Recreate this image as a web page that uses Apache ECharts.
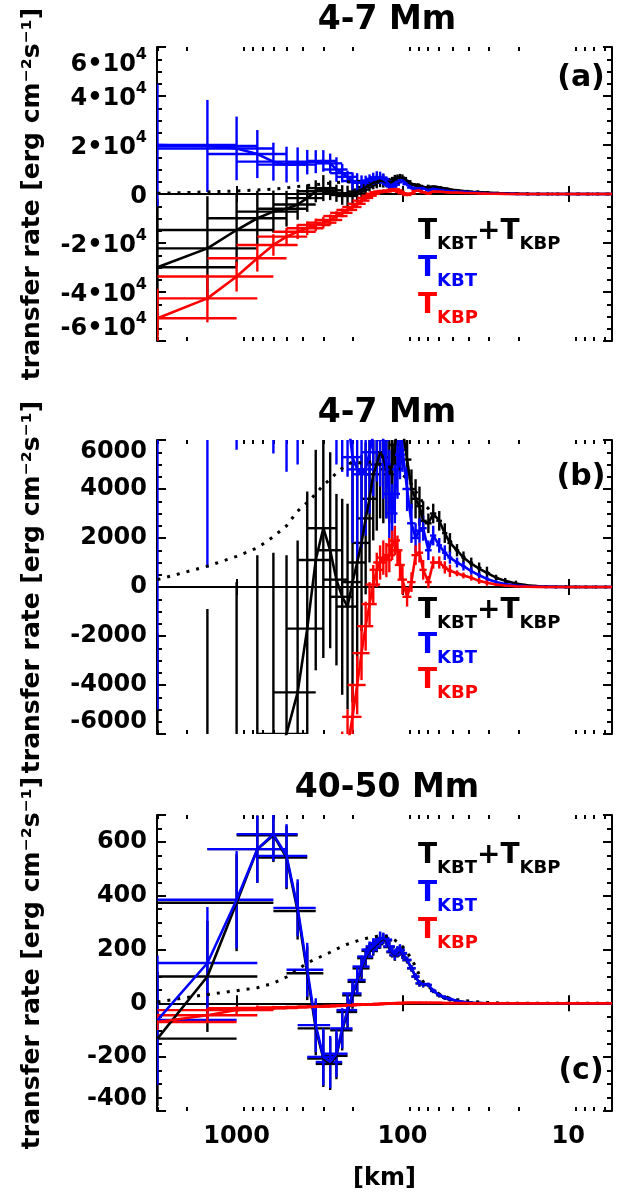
<!DOCTYPE html>
<html>
<head>
<meta charset="utf-8">
<script src="https://cdn.jsdelivr.net/npm/echarts@6/dist/echarts.min.js"></script>
<style>
  html, body { margin: 0; padding: 0; background: #fff; }
  #chart { width: 617px; height: 1192px; }
</style>
</head>
<body>
<div id="chart"></div>
<script>
// horizontal scale in km = domainKm / wavenumber index
const domainKm = 3000;
const waveN = [
  1, 2, 3, 4, 5, 6, 7, 8, 9, 10,
  11, 12, 13, 14, 15, 16, 17, 18, 19, 20,
  21, 22, 23, 24, 25, 26, 27, 28, 29, 30,
  32, 34, 36, 38, 40, 43, 46, 50, 54, 58,
  64, 70, 78, 87, 97, 110, 125, 145, 170, 200,
  240, 290, 350, 420, 500, 550
];

// ---- 4-7 Mm (panels a and b) ----
const sum47 = [
  -29900, -22200, -14700, -9900, -7200, -6000, -4300, -1700, 1100, 2400,
  1500, 300, -400, -800, 200, 1000, 1800, 2800, 3600, 4600,
  5000, 5500, 5300, 4800, 4600, 5000, 5800, 6500, 6700, 6500,
  5200, 4000, 3600, 3300, 2700, 2600, 3000, 2700, 2200, 1800,
  1500, 1200, 950, 750, 580, 380, 250, 140, 70, 30,
  10, 5, 0, 0, 0, 0
];
const sumErr47 = [
  28000, 21300, 14900, 11200, 8600, 7300, 6200, 5600, 4500, 5300,
  4000, 3500, 4000, 4200, 4900, 4200, 3600, 3100, 2600, 2700,
  2700, 2700, 2700, 2000, 2000, 2000, 2000, 1500, 1500, 1500,
  800, 800, 800, 800, 800, 400, 400, 400, 400, 400,
  250, 250, 250, 250, 250, 120, 120, 120, 40, 40,
  10, 10, 5, 5, 5, 5
];
const kbt47 = [
  20000, 19600, 18600, 16300, 13200, 12000, 12000, 13000, 13200, 13500,
  12500, 10000, 8500, 7000, 5300, 4800, 4600, 4800, 5500, 6200,
  6800, 6600, 6000, 5000, 3800, 3000, 3800, 4800, 5400, 5600,
  4000, 2600, 2000, 2300, 2400, 1500, 2100, 1700, 1400, 1200,
  1000, 850, 650, 480, 330, 200, 120, 60, 25, 10,
  5, 0, 0, 0, 0, 0
];
const kbtErr47 = [
  25000, 18800, 13000, 9800, 7750, 7300, 7000, 5000, 4700, 4400,
  4000, 5000, 3800, 2500, 3500, 3700, 3000, 2700, 2500, 2500,
  2500, 2500, 2400, 2200, 1800, 1200, 1200, 1200, 1000, 900,
  900, 800, 600, 500, 500, 400, 400, 300, 300, 250,
  200, 180, 150, 120, 100, 70, 50, 30, 15, 8,
  4, 2, 1, 1, 1, 1
];
const kbp47 = [
  -50700, -42600, -33700, -26250, -20800, -17400, -15400, -14000, -12650, -11700,
  -10600, -9000, -7700, -6500, -5300, -4000, -2700, -1600, -700, 100,
  700, 1000, 1200, 1100, 1300, 1700, 1900, 1500, 900, 300,
  -400, 200, 1300, 1400, 700, 200, 1000, 1000, 800, 660,
  560, 470, 380, 250, 170, 100, 60, 30, 15, 5,
  0, 0, 0, 0, 0, 0
];
const kbpErr47 = [
  12000, 9800, 6100, 5400, 4400, 3500, 3000, 2800, 2600, 2400,
  2200, 2000, 1800, 1500, 1300, 1200, 1100, 1000, 900, 800,
  700, 700, 700, 700, 700, 600, 600, 600, 600, 600,
  400, 400, 400, 400, 400, 250, 250, 250, 250, 250,
  120, 120, 120, 120, 120, 50, 50, 50, 20, 20,
  5, 5, 2, 2, 2, 2
];
const ref47 = [
  300, 850, 1250, 1600, 2050, 2500, 3100, 3450, 3800, 4150,
  4400, 4650, 4850, 5000, 5100, 5100, 5050, 5050, 5100, 5100,
  5050, 5000, 4950, 4900, 4900, 4900, 4850, 4850, 4800, 4600,
  4400, 4200, 3900, 3700, 3400, 3200, 2950, 2600, 2200, 1900,
  1500, 1250, 1000, 800, 600, 380, 230, 120, 50, 20,
  5, 0, 0, 0, 0, 0
];

// ---- 40-50 Mm (panel c) ----
const sum4050 = [
  -131, 100, 374, 573, 625, 542, 343, 112, -93, -205,
  -225, -195, -100, -32, 30, 80, 130, 168, 195, 207,
  220, 233, 240, 234, 209, 190, 178, 190, 197, 185,
  160, 130, 99, 74, 71, 68, 46, 30, 21, 15,
  9, 5, 2, 1, 0, 0, 0, 0, 0, 0,
  0, 0, 0, 0, 0, 0
];
const sumErr4050 = [
  250, 206, 180, 125, 100, 118, 106, 100, 100, 106,
  97, 87, 75, 60, 50, 45, 40, 30, 30, 30,
  30, 30, 20, 20, 20, 20, 20, 20, 20, 20,
  12, 12, 12, 12, 12, 8, 8, 8, 8, 8,
  4, 4, 4, 4, 4, 1, 1, 1, 1, 1,
  1, 1, 1, 1, 1, 1
];
const kbt4050 = [
  -62, 150, 385, 573, 629, 548, 355, 125, -81, -199,
  -218, -187, -93, -25, 37, 87, 137, 174, 200, 212,
  224, 237, 243, 237, 212, 193, 181, 193, 200, 187,
  162, 131, 100, 75, 72, 69, 47, 31, 22, 16,
  10, 5, 2, 1, 0, 0, 0, 0, 0, 0,
  0, 0, 0, 0, 0, 0
];
const kbtErr4050 = [
  240, 208, 181, 125, 100, 118, 106, 100, 100, 106,
  97, 87, 75, 60, 50, 45, 40, 30, 30, 30,
  30, 30, 20, 20, 20, 20, 20, 20, 20, 20,
  12, 12, 12, 12, 12, 8, 8, 8, 8, 8,
  4, 4, 4, 4, 4, 1, 1, 1, 1, 1,
  1, 1, 1, 1, 1, 1
];
const kbp4050 = [
  -69, -44, -25, -18, -17, -15, -14, -13, -12, -11,
  -10, -9, -8, -7, -6, -5, -5, -4, -4, -3,
  -3, -2, -2, -1, -1, 0, 0, 1, 1, 1,
  2, 2, 2, 2, 2, 2, 2, 2, 1, 1,
  1, 1, 0, 0, 0, 0, 0, 0, 0, 0,
  0, 0, 0, 0, 0, 0
];
const kbpErr4050 = [
  30, 25, 15, 10, 8, 6, 5, 5, 4, 4,
  4, 3, 3, 3, 3, 2, 2, 2, 2, 2,
  2, 2, 2, 2, 2, 2, 2, 2, 2, 2,
  1, 1, 1, 1, 1, 1, 1, 1, 1, 1,
  1, 1, 1, 1, 1, 1, 1, 1, 1, 1,
  1, 1, 1, 1, 1, 1
];
const ref4050 = [
  5, 33, 47, 58, 75, 98, 125, 150, 165, 178,
  190, 202, 212, 220, 226, 232, 237, 241, 244, 247,
  249, 250, 250, 248, 245, 240, 235, 228, 220, 212,
  190, 165, 137, 105, 80, 62, 48, 35, 26, 19,
  14, 11, 8, 5, 3, 2, 0, 0, 0, 0,
  0, 0, 0, 0, 0, 0
];

// axis ticks and labels
const xMajor = [10, 100, 1000];
const xMajorText = ['10', '100', '1000'];
const xMinor = [6, 7, 8, 9, 20, 30, 40, 50, 60, 70, 80, 90,
  200, 300, 400, 500, 600, 700, 800, 900, 2000, 3000];
const yTicksA = [-60000, -40000, -20000, 0, 20000, 40000, 60000];
const yTextA = ['{b|-6•10}{sup|4}', '{b|-4•10}{sup|4}', '{b|-2•10}{sup|4}', '{b|0}',
  '{b|2•10}{sup|4}', '{b|4•10}{sup|4}', '{b|6•10}{sup|4}'];
const yTicksB = [-6000, -4000, -2000, 0, 2000, 4000, 6000];
const yTextB = ['-6000', '-4000', '-2000', '0', '2000', '4000', '6000'];
const yTicksC = [-400, -200, 0, 200, 400, 600];
const yTextC = ['-400', '-200', '0', '200', '400', '600'];

const fontFamily = 'DejaVu Sans';
const BLACK = '#000000', BLUE = '#0000ff', RED = '#ff0000';

const panels = [
  { top: 47, height: 294, min: -60000, max: 60000, interval: 20000, ticks: yTicksA, text: yTextA,
    sum: sum47, sumErr: sumErr47, kbt: kbt47, kbtErr: kbtErr47, kbp: kbp47, kbpErr: kbpErr47, ref: ref47,
    title: '4-7 Mm', titleY: 20, tag: '(a)', tagY: 78, legendY: [223, 260, 297] },
  { top: 440, height: 294, min: -6000, max: 6000, interval: 2000, ticks: yTicksB, text: yTextB,
    sum: sum47, sumErr: sumErr47, kbt: kbt47, kbtErr: kbtErr47, kbp: kbp47, kbpErr: kbpErr47, ref: ref47,
    title: '4-7 Mm', titleY: 413, tag: '(b)', tagY: 477, legendY: [602, 637, 672] },
  { top: 815, height: 296, min: -400, max: 700, interval: 200, ticks: yTicksC, text: yTextC,
    sum: sum4050, sumErr: sumErr4050, kbt: kbt4050, kbtErr: kbtErr4050, kbp: kbp4050, kbpErr: kbpErr4050, ref: ref4050,
    title: '40-50 Mm', titleY: 788, tag: '(c)', tagY: 1071, legendY: [847, 885, 922] }
];

function lineData(vals) {
  return waveN.map((n, i) => [domainKm / n, vals[i]]);
}
function crossData(vals, errs) {
  // [km, value, error, km at n+2, km at n-2]
  return waveN.map((n, i) => [domainKm / n, vals[i], errs[i],
    domainKm / (n + 2), n > 2 ? domainKm / (n - 2) : 1e5]);
}

function renderCross(color) {
  return function (params, api) {
    const x = api.value(0), y = api.value(1), e = api.value(2);
    const c = api.coord([x, y]);
    const t = api.coord([x, y + e]);
    const b = api.coord([x, y - e]);
    const l = api.coord([api.value(4), y]);
    const r = api.coord([api.value(3), y]);
    const style = { stroke: color, lineWidth: 2.4, fill: null };
    return {
      type: 'group',
      children: [
        { type: 'line', shape: { x1: l[0], y1: c[1], x2: r[0], y2: c[1] }, style: style },
        { type: 'line', shape: { x1: c[0], y1: t[1], x2: c[0], y2: b[1] }, style: style }
      ]
    };
  };
}

const grid = [], xAxis = [], yAxis = [], series = [], graphic = [];
const axisLineStyle = { color: BLACK, width: 2 };
const boldFont = { fontFamily: fontFamily, fontWeight: 'bold', color: BLACK };
const labelRich = {
  b: { fontSize: 24, fontFamily: fontFamily, fontWeight: 'bold', color: BLACK, lineHeight: 30, verticalAlign: 'bottom' },
  sup: { fontSize: 16, fontFamily: fontFamily, fontWeight: 'bold', color: BLACK, lineHeight: 16, verticalAlign: 'top' }
};

panels.forEach((p, gi) => {
  const last = gi === panels.length - 1;
  grid.push({ left: 157, width: 455, top: p.top, height: p.height });

  const xBase = { type: 'log', logBase: 10, inverse: true, min: 5.45, max: 3020, gridIndex: gi,
    splitLine: { show: false }, axisLine: { show: true, lineStyle: axisLineStyle } };
  xAxis.push(Object.assign({}, xBase, {
    position: 'bottom',
    axisTick: { inside: true, length: 8, lineStyle: axisLineStyle, customValues: xMajor },
    axisLabel: Object.assign({ show: last, customValues: xMajor, margin: 14, fontSize: 24,
      formatter: v => { const i = xMajor.findIndex(t => Math.abs(t - v) / t < 1e-6); return i >= 0 ? xMajorText[i] : ''; } }, boldFont),
    name: last ? '[km]' : '', nameLocation: 'middle', nameGap: 56,
    nameTextStyle: Object.assign({ fontSize: 24 }, boldFont)
  }));
  xAxis.push(Object.assign({}, xBase, {
    position: 'top',
    axisTick: { inside: true, length: 8, lineStyle: axisLineStyle, customValues: xMajor },
    axisLabel: { show: false }
  }));
  xAxis.push(Object.assign({}, xBase, {
    position: 'bottom', axisLine: { show: false },
    axisTick: { inside: true, length: 4, lineStyle: axisLineStyle, customValues: xMinor },
    axisLabel: { show: false }
  }));
  xAxis.push(Object.assign({}, xBase, {
    position: 'top', axisLine: { show: false },
    axisTick: { inside: true, length: 4, lineStyle: axisLineStyle, customValues: xMinor },
    axisLabel: { show: false }
  }));

  const yBase = { type: 'value', gridIndex: gi, min: p.min, max: p.max, interval: p.interval,
    splitLine: { show: false }, axisLine: { show: true, lineStyle: axisLineStyle },
    axisTick: { show: true, inside: true, length: 9, lineStyle: axisLineStyle },
    minorTick: { show: true, splitNumber: 4, length: 5, lineStyle: axisLineStyle } };
  yAxis.push(Object.assign({}, yBase, {
    position: 'left',
    axisLabel: Object.assign({ fontSize: 24, margin: 10, rich: labelRich,
      verticalAlignMinLabel: 'bottom', verticalAlignMaxLabel: 'top',
      formatter: v => { const i = p.ticks.indexOf(v); return i >= 0 ? p.text[i] : ''; } }, boldFont),
    name: 'transfer rate [erg cm⁻²s⁻¹]', nameLocation: 'middle', nameRotate: 90, nameGap: 112,
    nameTextStyle: Object.assign({ fontSize: 25 }, boldFont)
  }));
  yAxis.push(Object.assign({}, yBase, { position: 'right', axisLabel: { show: false } }));

  const xi = gi * 4, yi = gi * 2;
  const lineSeries = (vals, color, lineStyle) => ({
    type: 'line', xAxisIndex: xi, yAxisIndex: yi, data: lineData(vals),
    showSymbol: false, symbol: 'none', silent: true, clip: true,
    lineStyle: Object.assign({ color: color, width: 2.6 }, lineStyle || {})
  });
  const crossSeries = (vals, errs, color) => ({
    type: 'custom', xAxisIndex: xi, yAxisIndex: yi, data: crossData(vals, errs),
    encode: { x: 0, y: 1 }, clip: true, silent: true, renderItem: renderCross(color)
  });
  series.push(lineSeries(p.ref, BLACK, { width: 3, type: [3, 7], cap: 'butt' }));
  series.push(lineSeries(p.sum, BLACK));
  series.push(crossSeries(p.sum, p.sumErr, BLACK));
  series.push(lineSeries(p.kbt, BLUE));
  series.push(crossSeries(p.kbt, p.kbtErr, BLUE));
  series.push(lineSeries(p.kbp, RED));
  series.push(crossSeries(p.kbp, p.kbpErr, RED));

  // title and panel tag
  graphic.push({ type: 'text', x: 387, y: p.titleY, silent: true,
    style: { text: p.title, font: 'bold 33px "DejaVu Sans"', fill: BLACK,
      align: 'center', verticalAlign: 'middle', textAlign: 'center', textVerticalAlign: 'middle' } });
  graphic.push({ type: 'text', x: 581, y: p.tagY, silent: true,
    style: { text: p.tag, font: 'bold 30px "DejaVu Sans"', fill: BLACK,
      align: 'center', verticalAlign: 'middle', textAlign: 'center', textVerticalAlign: 'middle' } });

  // legend with subscripts
  const legendLines = [
    ['{m|T}{s|KBT}{m|+T}{s|KBP}', BLACK],
    ['{m|T}{s|KBT}', BLUE],
    ['{m|T}{s|KBP}', RED]
  ];
  legendLines.forEach((ln, k) => {
    graphic.push({ type: 'text', x: 418, y: p.legendY[k] - 5, silent: true, z: 10,
      style: { text: ln[0], align: 'left', verticalAlign: 'top', textAlign: 'left', textVerticalAlign: 'top',
        rich: {
          m: { fontSize: 28, fontWeight: 'bold', fontFamily: fontFamily, fill: ln[1], lineHeight: 30, verticalAlign: 'top' },
          s: { fontSize: 18, fontWeight: 'bold', fontFamily: fontFamily, fill: ln[1], lineHeight: 18,
            verticalAlign: 'top', padding: [17, 0, 0, 0] }
        } } });
  });
});

const chart = echarts.init(document.getElementById('chart'), null, { renderer: 'canvas' });
chart.setOption({
  animation: false,
  backgroundColor: '#ffffff',
  grid: grid,
  xAxis: xAxis,
  yAxis: yAxis,
  series: series,
  graphic: graphic
});
</script>
</body>
</html>
